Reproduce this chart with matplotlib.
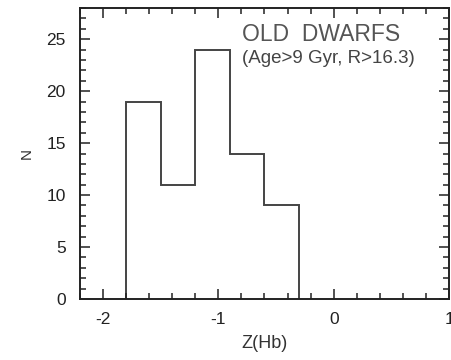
import numpy as np
import matplotlib.pyplot as plt
from matplotlib.ticker import MultipleLocator

plt.rcParams['font.family'] = ['Liberation Sans', 'DejaVu Sans']
plt.rcParams['axes.unicode_minus'] = False

# metallicity bins and counts for the old dwarf sample
bin_edges = [-1.8, -1.5, -1.2, -0.9, -0.6, -0.3]
counts = [19, 11, 24, 14, 9]

fig = plt.figure(figsize=(4.52, 3.6), dpi=100)
ax = fig.add_axes([0.1763, 0.1694, 0.8176, 0.8083])

ax.stairs(counts, bin_edges, color='#444444', linewidth=1.4)
ax.plot([-2.2, bin_edges[0]], [0, 0], color='#bbbbbb', linewidth=1.0)

ax.set_xlim(-2.2, 1.0)
ax.set_ylim(0, 28)
ax.xaxis.set_major_locator(MultipleLocator(1))
ax.xaxis.set_minor_locator(MultipleLocator(0.2))
ax.yaxis.set_major_locator(MultipleLocator(5))
ax.yaxis.set_minor_locator(MultipleLocator(1))
ax.tick_params(which='both', direction='in', top=True, right=True,
               width=1.1, colors='#222222', labelsize=12.5)
ax.tick_params(axis='x', which='major', length=7, pad=9)
ax.tick_params(axis='y', which='major', length=7, pad=10)
ax.tick_params(which='minor', length=4)
for s in ax.spines.values():
    s.set_linewidth(1.4)
    s.set_color('#222222')

ax.set_xlabel('Z(Hb)', fontsize=13, color='#333333', labelpad=6)
ax.set_ylabel('N', fontsize=11, color='#333333', labelpad=9)

ax.text(0.44, 0.95, 'OLD  DWARFS', transform=ax.transAxes,
        fontsize=16.5, color='#555555', va='top', ha='left')
ax.text(0.44, 0.855, '(Age>9 Gyr, R>16.3)', transform=ax.transAxes,
        fontsize=13.5, color='#444444', va='top', ha='left')

fig.savefig('out.png', dpi=100)
